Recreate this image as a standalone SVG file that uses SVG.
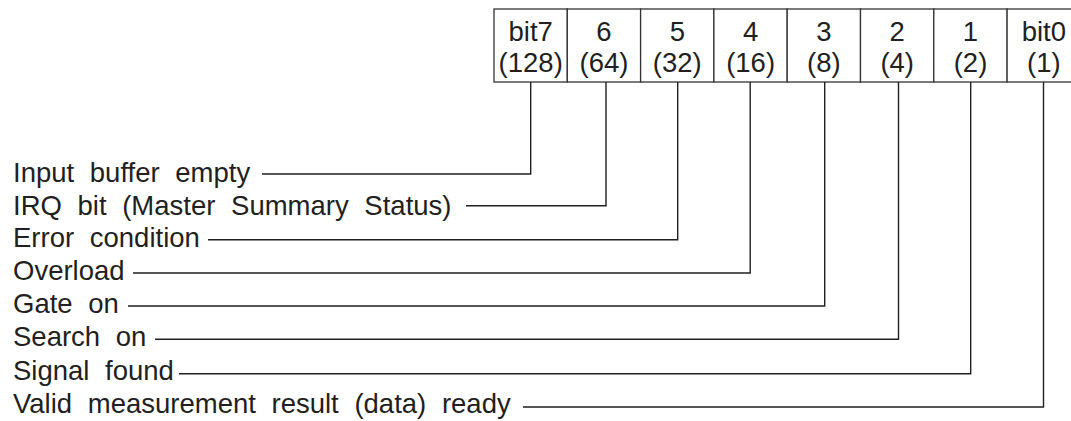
<svg xmlns="http://www.w3.org/2000/svg" width="1071" height="421" viewBox="0 0 1071 421">
<style>
  .t { font-family: "Liberation Sans", Arial, sans-serif; font-size: 27.5px; fill: #231f20; }
  .lbl { word-spacing: 8px; }
  .h { text-anchor: middle; }
  .cell { fill: #ffffff; stroke: #333333; stroke-width: 1.3; }
  .wire { fill: none; stroke: #231f20; stroke-width: 1.4; }
</style>
<rect width="1071" height="421" fill="#ffffff"/>
<g id="register">
  <g id="bit7"><rect class="cell" x="494" y="9" width="73.3" height="73"/><text class="t h" x="530.7" y="41">bit7</text><text class="t h" x="530.7" y="72">(128)</text></g>
  <g id="bit6"><rect class="cell" x="567.3" y="9" width="73.3" height="73"/><text class="t h" x="604" y="41">6</text><text class="t h" x="604" y="72">(64)</text></g>
  <g id="bit5"><rect class="cell" x="640.6" y="9" width="73.3" height="73"/><text class="t h" x="677.3" y="41">5</text><text class="t h" x="677.3" y="72">(32)</text></g>
  <g id="bit4"><rect class="cell" x="713.9" y="9" width="73.3" height="73"/><text class="t h" x="750.6" y="41">4</text><text class="t h" x="750.6" y="72">(16)</text></g>
  <g id="bit3"><rect class="cell" x="787.2" y="9" width="73.3" height="73"/><text class="t h" x="823.9" y="41">3</text><text class="t h" x="823.9" y="72">(8)</text></g>
  <g id="bit2"><rect class="cell" x="860.5" y="9" width="73.3" height="73"/><text class="t h" x="897.2" y="41">2</text><text class="t h" x="897.2" y="72">(4)</text></g>
  <g id="bit1"><rect class="cell" x="933.8" y="9" width="73.3" height="73"/><text class="t h" x="970.5" y="41">1</text><text class="t h" x="970.5" y="72">(2)</text></g>
  <g id="bit0"><rect class="cell" x="1007.1" y="9" width="73.3" height="73"/><text class="t h" x="1043.8" y="41">bit0</text><text class="t h" x="1043.8" y="72">(1)</text></g>
</g>
<g id="labels">
  <g id="lbl7"><text class="t lbl" x="13" y="182">Input buffer empty</text></g>
  <g id="lbl6"><text class="t lbl" x="13" y="215">IRQ bit (Master Summary Status)</text></g>
  <g id="lbl5"><text class="t lbl" x="13" y="247">Error condition</text></g>
  <g id="lbl4"><text class="t lbl" x="13" y="280">Overload</text></g>
  <g id="lbl3"><text class="t lbl" x="13" y="313">Gate on</text></g>
  <g id="lbl2"><text class="t lbl" x="13" y="346">Search on</text></g>
  <g id="lbl1"><text class="t lbl" x="13" y="380">Signal found</text></g>
  <g id="lbl0"><text class="t lbl" x="13" y="413">Valid measurement result (data) ready</text></g>
</g>
<g id="connectors">
  <polyline class="wire" points="262,174 530.7,174 530.7,82"/>
  <polyline class="wire" points="466,205.7 606,205.7 606,82"/>
  <polyline class="wire" points="208,239.7 677.7,239.7 677.7,82"/>
  <polyline class="wire" points="133,273 750.2,273 750.2,82"/>
  <polyline class="wire" points="128,306 824.7,306 824.7,82"/>
  <polyline class="wire" points="155,339.3 898.5,339.3 898.5,82"/>
  <polyline class="wire" points="179,373.7 970.7,373.7 970.7,82"/>
  <polyline class="wire" points="523,407 1043.5,407 1043.5,82"/>
</g>
</svg>
